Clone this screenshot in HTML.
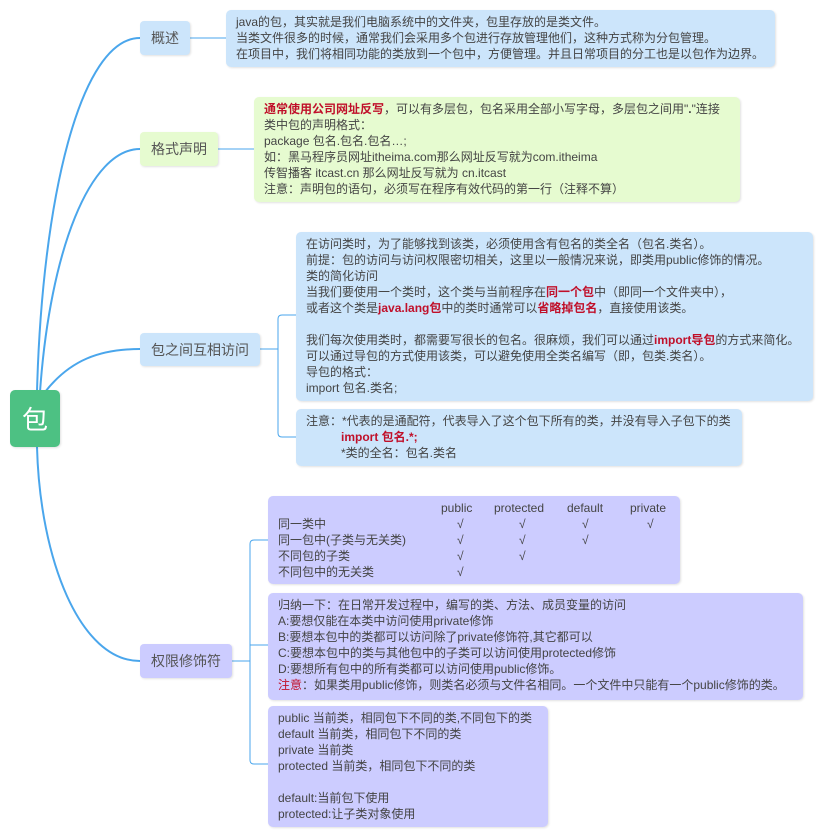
<!DOCTYPE html>
<html><head><meta charset="utf-8"><style>
body{margin:0;width:831px;height:837px;background:#fff;position:relative;overflow:hidden;font-family:"Liberation Sans","Noto Sans CJK SC",sans-serif;font-size:12px;color:#444}
.n{position:absolute;border-radius:4px;display:flex;align-items:center;justify-content:center;font-size:14px;color:#555;box-shadow:1px 1px 2px rgba(0,0,0,.12)}
.b{position:absolute;border-radius:5px;box-sizing:border-box;padding:4px 10px;line-height:16px;white-space:nowrap;box-shadow:1px 1px 2px rgba(0,0,0,.12)}
.bl{background:#cce5fb}.gr{background:#e6fbd0}.pu{background:#ccccff}
.r{color:#c0102a;font-weight:bold}
.c{position:absolute;line-height:16px}
</style></head><body>
<svg width="831" height="837" style="position:absolute;left:0;top:0">
<g fill="none" stroke="#4aa6ec" stroke-width="2">
<path d="M37 392 C42 200 80 38 140 38"/>
<path d="M40 392 C50 250 90 149 140 149"/>
<path d="M45 392 C70 360 100 349 140 349"/>
<path d="M37 447 C40 560 80 661 140 661"/>
</g>
<g fill="none" stroke="#4aa6ec" stroke-width="1">
<path d="M190 38 H226"/>
<path d="M218 149 H254"/>
<path d="M260 349 H278 M296 315 H282 Q278 315 278 319 V433 Q278 437 282 437 H296"/>
<path d="M232 661 H250 M268 540 H254 Q250 540 250 544 V760 Q250 764 254 764 H268 M250 645 H268"/>
</g>
</svg>
<div class="n" style="left:10px;top:390px;width:50px;height:57px;background:#4dc183;color:#fff;font-size:26px;border-radius:5px">包</div>
<div class="n bl" style="left:140px;top:21px;width:50px;height:34px">概述</div>
<div class="n gr" style="left:140px;top:132px;width:78px;height:34px">格式声明</div>
<div class="n bl" style="left:140px;top:333px;width:120px;height:33px">包之间互相访问</div>
<div class="n pu" style="left:140px;top:644px;width:92px;height:34px">权限修饰符</div>

<div class="b bl" style="left:226px;top:10px;width:549px;height:57px">java的包，其实就是我们电脑系统中的文件夹，包里存放的是类文件。<br>当类文件很多的时候，通常我们会采用多个包进行存放管理他们，这种方式称为分包管理。<br>在项目中，我们将相同功能的类放到一个包中，方便管理。并且日常项目的分工也是以包作为边界。</div>

<div class="b gr" style="left:254px;top:97px;width:486px;height:105px"><span class="r">通常使用公司网址反写</span>，可以有多层包，包名采用全部小写字母，多层包之间用"<b>.</b>"连接<br>类中包的声明格式：<br>package 包名.包名.包名…;<br>如：黑马程序员网址itheima.com那么网址反写就为com.itheima<br>传智播客 itcast.cn 那么网址反写就为 cn.itcast<br>注意：声明包的语句，必须写在程序有效代码的第一行（注释不算）</div>

<div class="b bl" style="left:296px;top:232px;width:517px;height:169px">在访问类时，为了能够找到该类，必须使用含有包名的类全名（包名.类名）。<br>前提：包的访问与访问权限密切相关，这里以一般情况来说，即类用public修饰的情况。<br>类的简化访问<br>当我们要使用一个类时，这个类与当前程序在<span class="r">同一个包</span>中（即同一个文件夹中），<br>或者这个类是<span class="r">java.lang包</span>中的类时通常可以<span class="r">省略掉包名</span>，直接使用该类。<br>&nbsp;<br>我们每次使用类时，都需要写很长的包名。很麻烦，我们可以通过<span class="r">import导包</span>的方式来简化。<br>可以通过导包的方式使用该类，可以避免使用全类名编写（即，包类.类名）。<br>导包的格式：<br>import 包名.类名;</div>

<div class="b bl" style="left:296px;top:409px;width:446px;height:57px">注意：*代表的是通配符，代表导入了这个包下所有的类，并没有导入子包下的类<br><span style="padding-left:35px" class="r">import 包名.*;</span><br><span style="padding-left:35px">*类的全名：包名.类名</span></div>

<div class="b pu" style="left:268px;top:496px;width:412px;height:88px;padding:0"></div>
<div class="c" style="left:441px;top:500px">public</div>
<div class="c" style="left:494px;top:500px">protected</div>
<div class="c" style="left:567px;top:500px">default</div>
<div class="c" style="left:630px;top:500px">private</div>
<div class="c" style="left:278px;top:516px">同一类中<br>同一包中(子类与无关类)<br>不同包的子类<br>不同包中的无关类</div>
<div class="c" style="left:457px;top:516px">√<br>√<br>√<br>√</div>
<div class="c" style="left:519px;top:516px">√<br>√<br>√</div>
<div class="c" style="left:582px;top:516px">√<br>√</div>
<div class="c" style="left:647px;top:516px">√</div>

<div class="b pu" style="left:268px;top:593px;width:535px;height:107px">归纳一下：在日常开发过程中，编写的类、方法、成员变量的访问<br>A:要想仅能在本类中访问使用private修饰<br>B:要想本包中的类都可以访问除了private修饰符,其它都可以<br>C:要想本包中的类与其他包中的子类可以访问使用protected修饰<br>D:要想所有包中的所有类都可以访问使用public修饰。<br><span style="color:#c0102a">注意</span>：如果类用public修饰，则类名必须与文件名相同。一个文件中只能有一个public修饰的类。</div>

<div class="b pu" style="left:268px;top:706px;width:280px;height:121px">public 当前类，相同包下不同的类,不同包下的类<br>default 当前类，相同包下不同的类<br>private 当前类<br>protected 当前类，相同包下不同的类<br>&nbsp;<br>default:当前包下使用<br>protected:让子类对象使用</div>
</body></html>
